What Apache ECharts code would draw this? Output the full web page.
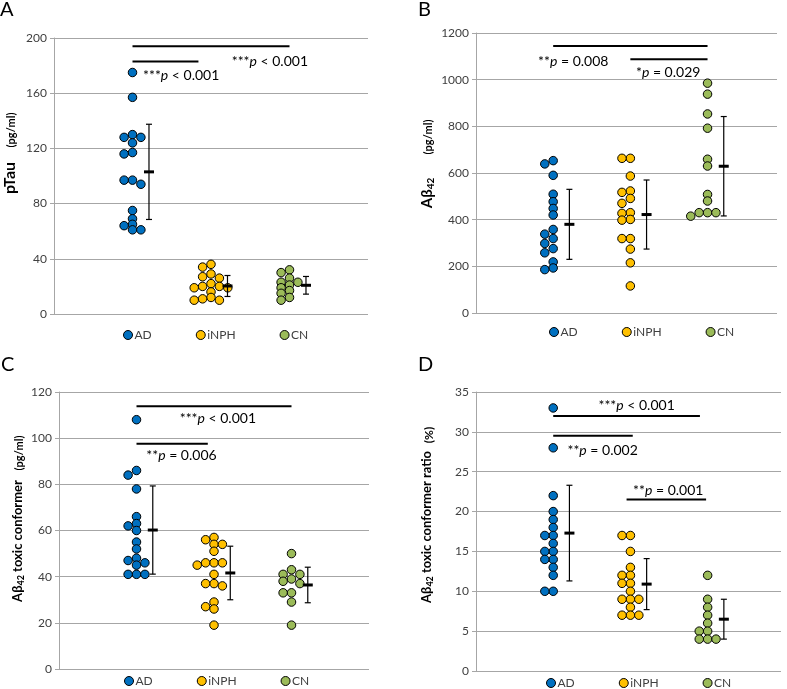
<!DOCTYPE html>
<html><head><meta charset="utf-8">
<script src="https://cdn.jsdelivr.net/npm/echarts@6/dist/echarts.min.js"></script>
<style>html,body{margin:0;padding:0;background:#fff}#c{width:787px;height:689px}</style>
</head><body><div id="c"></div>
<script>
// ---------- data ----------
const groups = ['AD', 'iNPH', 'CN'];
const groupColors = ['#0070C0', '#FFC000', '#9BBB59'];

// Panel A: pTau (pg/ml)
const pTauAD   = [175, 157, 130, 128, 128, 124, 117, 116, 97, 97, 94, 75, 69, 65, 64, 61, 61];
const pTauINPH = [36, 34, 29, 27, 26, 22, 20, 20, 19, 19, 16, 12, 11, 10, 10];
const pTauCN   = [32, 30, 26, 23, 23, 21, 19, 17, 15, 12, 10];
const pTauMean = [103, 20.3, 20.8];
const pTauSD   = [34.5, 7.6, 6.4];
const pTauTicks = [0, 40, 80, 120, 160, 200];
const pTauLines = [[1, 3, 194], [1, 1.84, 183]];
const pTauNotes = [[2.75, 183, '***', '< 0.001'], [1.62, 173, '***', '< 0.001']];

// Panel B: Aβ42 (pg/ml)
const abAD   = [653, 639, 590, 509, 477, 448, 420, 358, 338, 319, 298, 276, 258, 219, 193, 186];
const abINPH = [663, 663, 587, 523, 517, 491, 470, 430, 427, 401, 398, 319, 319, 274, 215, 116];
const abCN   = [985, 938, 853, 792, 659, 630, 508, 480, 430, 430, 430, 415];
const abMean = [380, 422, 629];
const abSD   = [150, 148, 213];
const abTicks = [0, 200, 400, 600, 800, 1000, 1200];
const abLines = [[1, 3, 1144], [2, 3, 1087]];
const abNotes = [[1.26, 1077, '**', '= 0.008'], [2.49, 1031, '*', '= 0.029']];

// Panel C: Aβ42 toxic conformer (pg/ml)
const tcAD   = [108, 86, 84, 78, 66, 63, 62, 60, 55, 52, 48, 47, 46, 45, 41, 41, 41];
const tcINPH = [57, 56, 54, 54, 51, 46, 46, 46, 45, 41, 37, 37, 36, 29, 27, 26, 19];
const tcCN   = [50, 43, 41, 41, 39, 38, 37, 33, 33, 29, 19];
const tcMean = [60.2, 41.6, 36.4];
const tcSD   = [19.1, 11.6, 7.7];
const tcTicks = [0, 20, 40, 60, 80, 100, 120];
const tcLines = [[1, 3, 113.8], [1, 1.92, 97.6]];
const tcNotes = [[2.05, 108.5, '***', '< 0.001'], [1.58, 92.6, '**', '= 0.006']];

// Panel D: Aβ42 toxic conformer ratio (%)
const trAD   = [33, 28, 22, 20, 19, 18, 17, 17, 16, 15, 15, 14, 14, 13, 12, 10, 10];
const trINPH = [17, 17, 15, 13, 12, 12, 11, 11, 10, 9, 9, 9, 8, 7, 7, 7];
const trCN   = [12, 9, 8, 7, 6, 5, 5, 4, 4, 4];
const trMean = [17.3, 10.9, 6.5];
const trSD   = [6.0, 3.2, 2.5];
const trTicks = [0, 5, 10, 15, 20, 25, 30, 35];
const trLines = [[1, 2.9, 32], [1, 2.03, 29.5], [1.95, 2.98, 21.5]];
const trNotes = [[2.08, 33.3, '***', '< 0.001'], [1.64, 27.7, '**', '= 0.002'], [2.49, 22.7, '**', '= 0.001']];

// ---------- layout ----------
const FONT = 'Lato, "Open Sans", sans-serif';
const panels = [
  { values: [pTauAD, pTauINPH, pTauCN], mean: pTauMean, sd: pTauSD, ticks: pTauTicks, lines: pTauLines, notes: pTauNotes,
    grid: { left: 54, top: 38, width: 314, height: 276 }, xMax: 4, legend: { left: 118, top: 324 } },
  { values: [abAD, abINPH, abCN], mean: abMean, sd: abSD, ticks: abTicks, lines: abLines, notes: abNotes,
    grid: { left: 476, top: 33, width: 301, height: 280 }, xMax: 3.9, legend: { left: 544, top: 321 } },
  { values: [tcAD, tcINPH, tcCN], mean: tcMean, sd: tcSD, ticks: tcTicks, lines: tcLines, notes: tcNotes,
    grid: { left: 59, top: 392, width: 310, height: 277 }, xMax: 4, legend: { left: 119, top: 670 } },
  { values: [trAD, trINPH, trCN], mean: trMean, sd: trSD, ticks: trTicks, lines: trLines, notes: trNotes,
    grid: { left: 476, top: 392, width: 305, height: 279 }, xMax: 3.95, legend: { left: 541, top: 672 } }
];

const DOT = 8.5;      // marker size
const STEP = 8.4;     // swarm column spacing, px
const SEP = 5.4;      // min vertical separation within a column, px

function swarm(vals, center, pxX, pxY) {
  const placed = [];
  const out = [];
  vals.forEach(v => {
    const py = v * pxY;
    for (let k = 0; k < 30; k++) {
      const col = k === 0 ? 0 : (k % 2 ? -Math.ceil(k / 2) : Math.ceil(k / 2));
      if (!placed.some(p => p.col === col && Math.abs(p.py - py) < SEP)) {
        placed.push({ col, py });
        out.push([center + col * STEP / pxX, v]);
        break;
      }
    }
  });
  return out;
}

const grids = [], xAxes = [], yAxes = [], series = [], legends = [];
panels.forEach((p, i) => {
  const yMax = p.ticks[p.ticks.length - 1];
  const interval = p.ticks[1] - p.ticks[0];
  grids.push(Object.assign({ containLabel: false }, p.grid));
  xAxes.push({ type: 'value', gridIndex: i, min: 0, max: p.xMax, show: false });
  yAxes.push({
    type: 'value', gridIndex: i, min: 0, max: yMax, interval: interval,
    axisLine: { show: true, lineStyle: { color: '#a6a6a6', width: 1 } },
    axisTick: { show: true, length: 4, lineStyle: { color: '#a6a6a6' } },
    axisLabel: { color: '#404040', fontSize: 12, fontFamily: FONT, margin: 7, formatter: v => String(v) },
    splitLine: { show: true, lineStyle: { color: '#a6a6a6', width: 1 } }
  });
  const pxX = p.grid.width / p.xMax;
  const pxY = p.grid.height / yMax;
  groups.forEach((g, k) => {
    series.push({
      name: g, type: 'scatter', xAxisIndex: i, yAxisIndex: i,
      symbol: 'circle', symbolSize: DOT,
      itemStyle: { color: groupColors[k], borderColor: '#000', borderWidth: 1, opacity: 1 },
      emphasis: { disabled: true },
      data: swarm(p.values[k], k + 1, pxX, pxY), z: 3
    });
  });
  // error bars (mean ± SD)
  series.push({
    type: 'custom', name: 'sd' + i, xAxisIndex: i, yAxisIndex: i, z: 4, silent: true,
    data: p.mean.map((m, k) => [k + 1.21, m, m - p.sd[k], m + p.sd[k]]),
    encode: { x: 0, y: [1, 2, 3] },
    renderItem: (params, api) => {
      const x = api.value(0);
      const pm = api.coord([x, api.value(1)]);
      const pl = api.coord([x, api.value(2)]);
      const ph = api.coord([x, api.value(3)]);
      const st = { stroke: '#000', lineWidth: 1.2 };
      return { type: 'group', children: [
        { type: 'line', shape: { x1: pl[0], y1: pl[1], x2: ph[0], y2: ph[1] }, style: st },
        { type: 'line', shape: { x1: pl[0] - 3, y1: pl[1], x2: pl[0] + 3, y2: pl[1] }, style: st },
        { type: 'line', shape: { x1: ph[0] - 3, y1: ph[1], x2: ph[0] + 3, y2: ph[1] }, style: st },
        { type: 'line', shape: { x1: pm[0] - 5, y1: pm[1], x2: pm[0] + 5, y2: pm[1] }, style: { stroke: '#000', lineWidth: 3 } }
      ]};
    }
  });
  // significance brackets
  series.push({
    type: 'custom', name: 'sig' + i, xAxisIndex: i, yAxisIndex: i, z: 4, silent: true,
    data: p.lines.map(l => [l[0], l[2], l[1]]),
    encode: { x: [0, 2], y: 1 },
    renderItem: (params, api) => {
      const a = api.coord([api.value(0), api.value(1)]);
      const b = api.coord([api.value(2), api.value(1)]);
      return { type: 'line', shape: { x1: a[0], y1: a[1], x2: b[0], y2: b[1] }, style: { stroke: '#000', lineWidth: 2 } };
    }
  });
  series.push({
    type: 'custom', name: 'note' + i, xAxisIndex: i, yAxisIndex: i, z: 4, silent: true,
    data: p.notes.map((n, j) => [n[0], n[1], j]),
    encode: { x: 0, y: 1 },
    renderItem: (params, api) => {
      const n = p.notes[params.dataIndex];
      const c = api.coord([api.value(0), api.value(1)]);
      return { type: 'text', x: c[0], y: c[1], style: {
        text: '{s|' + n[2] + '}{p|p}{s| ' + n[3] + '}',
        align: 'center', verticalAlign: 'middle', fill: '#000',
        rich: {
          s: { fontSize: 14, fontFamily: FONT, fill: '#000' },
          p: { fontSize: 14, fontFamily: FONT, fontStyle: 'italic', fill: '#000' }
        }
      }};
    }
  });
  legends.push({
    data: groups, left: p.legend.left, top: p.legend.top, orient: 'horizontal',
    itemWidth: 9, itemHeight: 9, itemGap: 44, selectedMode: false,
    icon: 'circle',
    itemStyle: { borderColor: '#000', borderWidth: 1 },
    textStyle: { color: '#404040', fontSize: 12, fontFamily: FONT, padding: [0, 0, 0, -3] }
  });
});

const titleRich = {
  b: { fontSize: 13, fontWeight: 'bold', fontFamily: FONT, fill: '#000', lineHeight: 16 },
  b15: { fontSize: 15, fontWeight: 'bold', fontFamily: FONT, fill: '#000', lineHeight: 18 },
  sub: { fontSize: 9, fontWeight: 'bold', fontFamily: FONT, fill: '#000', lineHeight: 8, verticalAlign: 'bottom' },
  sub15: { fontSize: 10, fontWeight: 'bold', fontFamily: FONT, fill: '#000', lineHeight: 8, verticalAlign: 'bottom' }
};
function vtext(x, y, text, extra) {
  return Object.assign({ type: 'text', x: x, y: y, rotation: Math.PI / 2,
    style: Object.assign({ text: text, align: 'center', verticalAlign: 'middle', fill: '#000', rich: titleRich }, extra || {}) });
}
const graphics = [
  { type: 'text', left: 0, top: 0, style: { text: 'A', fontSize: 20, fontFamily: FONT, fill: '#000' } },
  { type: 'text', left: 418, top: 0, style: { text: 'B', fontSize: 20, fontFamily: FONT, fill: '#000' } },
  { type: 'text', left: 1, top: 355, style: { text: 'C', fontSize: 20, fontFamily: FONT, fill: '#000' } },
  { type: 'text', left: 418, top: 355, style: { text: 'D', fontSize: 20, fontFamily: FONT, fill: '#000' } },
  vtext(10, 178, 'pTau', { font: 'bold 16px ' + FONT }),
  vtext(11.5, 130, '(pg/ml)', { font: 'bold 11px ' + FONT }),
  vtext(427, 193, '{b15|Aβ}{sub15|42}'),
  vtext(428, 137, '(pg/ml)', { font: 'bold 11px ' + FONT }),
  vtext(18, 541, '{b|Aβ}{sub|42}{b| toxic conformer}'),
  vtext(19, 453, '(pg/ml)', { font: 'bold 11px ' + FONT }),
  vtext(427, 527, '{b|Aβ}{sub|42}{b| toxic conformer ratio}'),
  vtext(429, 435, '(%)', { font: 'bold 12px ' + FONT })
];

const chart = echarts.init(document.getElementById('c'), null, { renderer: 'canvas' });
chart.setOption({
  animation: false,
  backgroundColor: '#fff',
  grid: grids, xAxis: xAxes, yAxis: yAxes, series: series, legend: legends,
  graphic: graphics
});
</script></body></html>
